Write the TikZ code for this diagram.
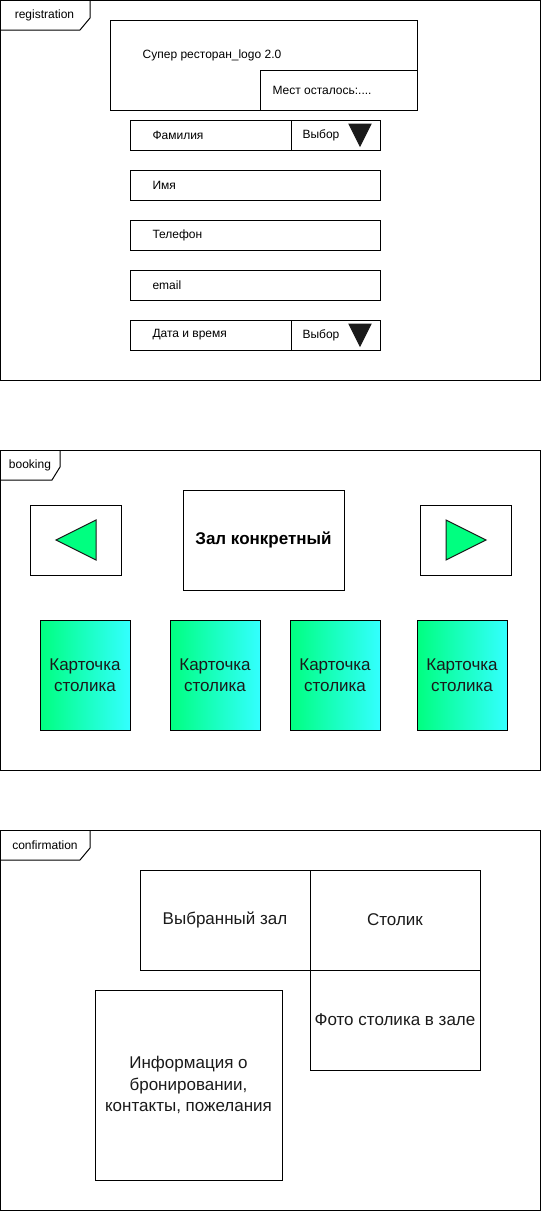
\documentclass[tikz,border=0pt]{standalone}
\usepackage{fontspec}
\setmainfont{Liberation Sans}
\usetikzlibrary{positioning}
\definecolor{cardgreen}{HTML}{00FF80}
\definecolor{cardcyan}{HTML}{33FFFF}
\definecolor{darkfill}{HTML}{1A1A1A}
\definecolor{inkgray}{HTML}{1A1A1A}
\begin{document}
\begin{tikzpicture}[x=1pt,y=-1pt,line width=1pt,
    box/.style={draw, anchor=north west, inner sep=0pt, outer sep=0pt},
    field/.style={box, minimum height=30pt},
    tablabel/.style={font=\fontsize{12}{14}\selectfont},
    lbl/.style={inner sep=0pt, font=\fontsize{12}{14}\selectfont},
    big/.style={align=center, text=inkgray, font=\fontsize{17}{21.5}\selectfont},
    card/.style={box, big, left color=cardgreen, right color=cardcyan,
                 minimum width=90pt, minimum height=110pt},
    arrowbtn/.style={fill=cardgreen, draw=inkgray},
    dropdown/.style={fill=darkfill, draw=darkfill}]
    \useasboundingbox (0,0) rectangle (541,1211);

    % registration
    \node[box, minimum width=540pt, minimum height=380pt] (regframe) at (0.5,0.5) {};
    \draw (0.5,30) -- (80,30) -- (90,18) -- (90,0.5);
    \node[tablabel] (regtab) at (44.5,15) {registration};

    \node[box, minimum width=307pt, minimum height=90pt] (logo) at (110,20) {};
    \node[lbl] (logotext) at (212,55) {Супер ресторан\_logo 2.0};
    \node[box, minimum width=157pt, minimum height=40pt] (seats) at (260,70) {};
    \node[lbl, right=12pt of seats.west] (seatstext) {Мест осталось:....};

    \node[field, minimum width=161pt] (surname) at (130,120) {};
    \node[field, minimum width=89pt] (surnamepick) at (291,120) {};
    \node[lbl, right=22pt of surname.west] (surnametext) {Фамилия};
    \node[lbl, right=11pt of surnamepick.west] (surnamepicktext) {Выбор};
    \filldraw[dropdown] (349,124) -- (371,124) -- (360,146) -- cycle;

    \node[field, minimum width=250pt] (name) at (130,170) {};
    \node[lbl, right=22pt of name.west] (nametext) {Имя};

    \node[field, minimum width=250pt] (phone) at (130,220) {};
    \node[lbl, right=22pt of phone.west] (phonetext) {Телефон};

    \node[field, minimum width=250pt] (email) at (130,270) {};
    \node[lbl, right=22pt of email.west] (emailtext) {email};

    \node[field, minimum width=161pt] (datetime) at (130,320) {};
    \node[field, minimum width=89pt] (datetimepick) at (291,320) {};
    \node[lbl, right=22pt of datetime.west] (datetimetext) {Дата и время};
    \node[lbl, right=11pt of datetimepick.west] (datetimepicktext) {Выбор};
    \filldraw[dropdown] (349,324) -- (371,324) -- (360,346) -- cycle;

    % booking
    \node[box, minimum width=540pt, minimum height=320pt] (bookframe) at (0.5,450.5) {};
    \draw (0.5,480) -- (52,480) -- (60,467) -- (60,450.5);
    \node[tablabel] (booktab) at (30,465) {booking};

    \node[box, minimum width=91pt, minimum height=70pt] (prev) at (30,505) {};
    \filldraw[arrowbtn] (56,540) -- (96,520) -- (96,560) -- cycle;
    \node[box, minimum width=161pt, minimum height=100pt,
          font=\bfseries\fontsize{17}{20}\selectfont] (hall) at (183,490) {Зал конкретный};
    \node[box, minimum width=91pt, minimum height=70pt] (next) at (420,505) {};
    \filldraw[arrowbtn] (446,520) -- (486,540) -- (446,560) -- cycle;

    \node[card] (card1) at (40,620) {Карточка\\столика};
    \node[card] (card2) at (170,620) {Карточка\\столика};
    \node[card] (card3) at (290,620) {Карточка\\столика};
    \node[card] (card4) at (417,620) {Карточка\\столика};

    % confirmation
    \node[box, minimum width=540pt, minimum height=380pt] (confframe) at (0.5,830.5) {};
    \draw (0.5,860) -- (80,860) -- (90,848) -- (90,830.5);
    \node[tablabel] (conftab) at (45,845) {confirmation};

    \node[box, big, minimum width=170pt, minimum height=100pt] (chosenhall) at (140,870) {Выбранный зал};
    \node[box, big, minimum width=170pt, minimum height=100pt] (table) at (310,870) {Столик};
    \node[box, big, minimum width=170pt, minimum height=100pt] (photo) at (310,970) {Фото столика в зале};
    \node[box, big, minimum width=187pt, minimum height=190pt] (info) at (95,990)
        {Информация о\\бронировании,\\контакты, пожелания};
\end{tikzpicture}
\end{document}
